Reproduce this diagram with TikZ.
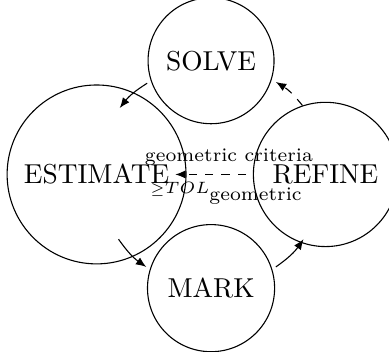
\documentclass[tikz,border=0pt]{standalone}
\usepackage{amsmath,amssymb}
\usepackage{tikz}
\usetikzlibrary{arrows.meta}

\begin{document}
\begin{tikzpicture}[>={Latex[length=3.8pt,width=3pt]},
  state/.style={circle,draw,inner sep=5pt},
  lbl/.style={font=\scriptsize,inner sep=1pt}]
  \useasboundingbox (-2.71,-2.27) rectangle (2.285,2.24);
  % phases of the loop
  \node[state] (solve)    at (0,1.46)  {SOLVE};
  \node[state] (estimate) at (-1.47,0) {ESTIMATE};
  \node[state,inner sep=5.5pt] (refine) at (1.47,0) {REFINE};
  \node[state,inner sep=5.5pt] (mark)   at (0,-1.46) {MARK};
  % arrow ends on a ring round the centre
  \coordinate (s1) at (125:1.43); \coordinate (s2) at (144:1.45);
  \coordinate (e1) at (215:1.45); \coordinate (e2) at (235:1.45);
  \coordinate (m1) at (305:1.45); \coordinate (m2) at (325:1.45);
  \coordinate (r1) at (37:1.47);  \coordinate (r2) at (55:1.45);
  \draw[->] (s1) to[bend right=10] (s2);
  \draw[->] (e1) to[bend right=10] (e2);
  \draw[->] (m1) to[bend right=10] (m2);
  \draw[->,dashed] (r1) to[bend right=10] (r2);
  % back to the estimate
  \coordinate (b1) at (0.45,0); \coordinate (b2) at (-0.46,0);
  \draw[->,dashed] (b1) -- (b2);
  \node[lbl,above=2pt] (crit) at (0.23,0) {geometric criteria};
  \node[lbl,below=1.5pt] (tol) at (0.2,0)
    {$\scriptscriptstyle\geq\mbox{\fontsize{6}{7}\selectfont$TOL$}_{\mbox{\scriptsize geometric}}$};
\end{tikzpicture}
\end{document}
